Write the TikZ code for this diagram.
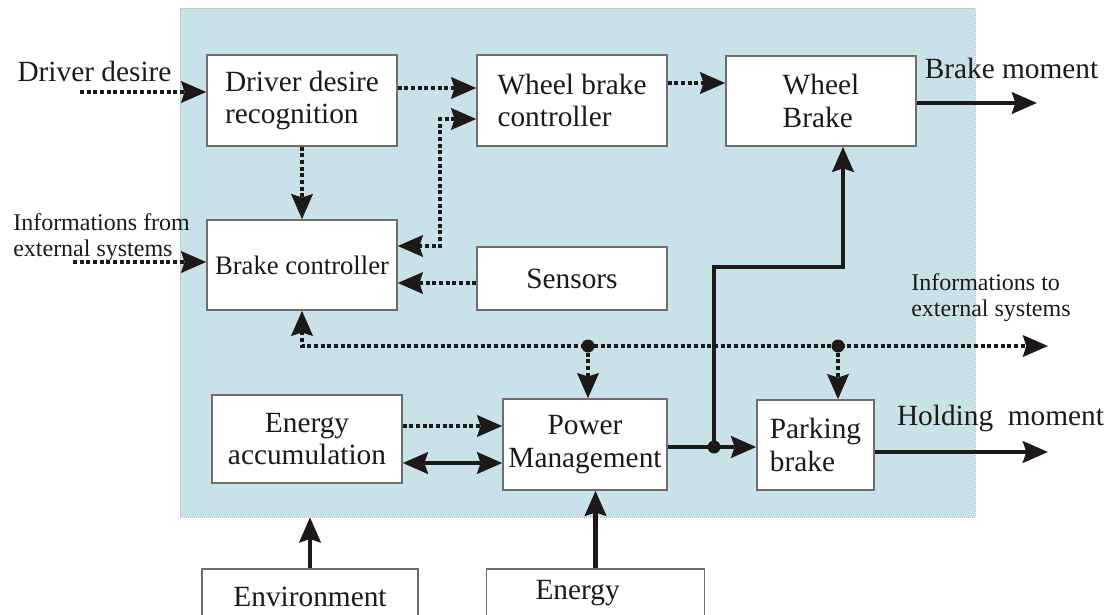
\documentclass[tikz,border=0pt]{standalone}
\usepackage{fontspec}
\setmainfont{Liberation Serif}
\usetikzlibrary{arrows.meta}

\definecolor{ink}{RGB}{30,25,25}
\definecolor{panelblue}{RGB}{201,226,233}
\definecolor{boxgray}{RGB}{110,110,110}
\newcommand\bigfont{\fontsize{22}{24.5}\selectfont}
\newcommand\midfont{\fontsize{20}{23}\selectfont}
\newcommand\smallfont{\fontsize{18}{19.5}\selectfont}

\tikzset{
  blk/.style={draw=boxgray, line width=1.1pt, fill=white, inner sep=0pt, text=ink, font=\bigfont},
  lbl/.style={inner sep=0pt, text=ink, font=\bigfont},
  slbl/.style={inner sep=0pt, text=ink, font=\smallfont},
  info/.style={draw=ink, line width=3pt, dash pattern=on 3pt off 2pt},
  power/.style={draw=ink, line width=3.4pt},
  >={Stealth[length=18.75pt,width=16pt,inset=2.5pt]}
}

\begin{document}
\begin{tikzpicture}[x=0.75pt,y=0.75pt,yscale=-1,xscale=1]
\useasboundingbox (0,0) rectangle (1109,614);

% panel
\node[fill=panelblue, draw=gray!60, densely dotted, line width=0.5pt, minimum width=596.25pt, minimum height=381.75pt, inner sep=0pt] (panel) at (577.5,262.5) {};

% Blocks
\node[blk, minimum width=142.5pt, minimum height=68.25pt, align=left] (ddr) at (302,100.5) {Driver desire\\recognition};
\node[blk, minimum width=142.5pt, minimum height=68.25pt, align=left] (wbc) at (572,100.5) {Wheel brake\\controller};
\node[blk, minimum width=142.5pt, minimum height=67.5pt, align=left] (wb) at (821,101) {Wheel\\Brake};
\node[blk, minimum width=142.5pt, minimum height=67.5pt, font=\midfont] (bc) at (302,265) {Brake controller};
\node[blk, minimum width=142.5pt, minimum height=47.25pt] (sensors) at (572,278.5) {Sensors};
\node[blk, minimum width=142.5pt, minimum height=66pt, align=center] (ea) at (307,439) {Energy\\accumulation};
\node[blk, minimum width=123pt, minimum height=68.25pt, align=center] (pm) at (585,444.5) {Power\\Management};
\node[blk, minimum width=87.75pt, minimum height=67.5pt, align=left] (pb) at (815.5,445) {Parking\\brake};
\node[blk, minimum width=162pt, minimum height=42pt] (env) at (310,597) {Environment};
\node[blk, inner xsep=36.75pt, text width=90pt, minimum height=36.3pt, align=left] (energy) at (595.5,593.2) {Energy};

% Text Node
\node[lbl, anchor=base] (ddlbl) at (94.5,81) {Driver desire};
\node[slbl, anchor=north west, align=left] (infin) at (13,213) {Informations from\\external systems};
\node[lbl, anchor=base] (bmlbl) at (1011.5,78) {Brake moment};
\node[slbl, anchor=north west, align=left] (infout) at (911,273) {Informations to\\external systems};
\node[lbl, anchor=base] (hmlbl) at (1000.5,425) {Holding\ \ moment};

% helper points
\coordinate (ddin) at (80,92);
\coordinate (extin) at (73,262);
\coordinate (r1) at (440,88);
\coordinate (r2) at (700,83);
\coordinate (fb1) at (440,246);
\coordinate (fb2) at (440,119);
\coordinate (snrow) at (440,283);
\coordinate (busend) at (1048,346);
\coordinate (j1) at (588,346);
\coordinate (j2) at (838,346);
\coordinate (eapm1) at (450,426);
\coordinate (eapm2) at (450,463);
\coordinate (j3) at (714,447);
\coordinate (wbrow) at (843,267);
\coordinate (bmend) at (1037,103);
\coordinate (hmend) at (1048,452);

% information flow
\draw[info,->] (ddin) -- (ddin -| ddr.west);
\draw[info,->] (ddr.east |- r1) -- (wbc.west |- r1);
\draw[info,->] (wbc.east |- r2) -- (wb.west |- r2);
\draw[info,->] (ddr.south) -- (bc.north);
\draw[info,<->] (fb1 -| bc.east) -- (fb1) -- (fb2) -- (fb2 -| wbc.west);
\draw[info,->] (sensors.west |- snrow) -- (bc.east |- snrow);
\draw[info,->] (extin) -- (extin -| bc.west);
\draw[info,<->] (bc.south) |- (busend);
\draw[info,->] (j1) -- (j1 |- pm.north);
\draw[info,->] (j2) -- (j2 |- pb.north);
\draw[info,->] (ea.east |- eapm1) -- (pm.west |- eapm1);
\fill[ink] (j1) circle[radius=6.5];
\fill[ink] (j2) circle[radius=6.5];

% power flow
\draw[power,<->] (ea.east |- eapm2) -- (pm.west |- eapm2);
\draw[power,->] (pm.east |- j3) -- (pb.west |- j3);
\draw[power,->] (j3) |- (wbrow) -- (wbrow |- wb.south);
\fill[ink] (j3) circle[radius=6.5];
\draw[power,->] (wb.east |- bmend) -- (bmend);
\draw[power,->] (pb.east |- hmend) -- (hmend);
\draw[power,->] (env.north) -- (env.north |- panel.south);
\draw[power,->] (energy.north) -- (energy.north |- pm.south);

\end{tikzpicture}
\end{document}
